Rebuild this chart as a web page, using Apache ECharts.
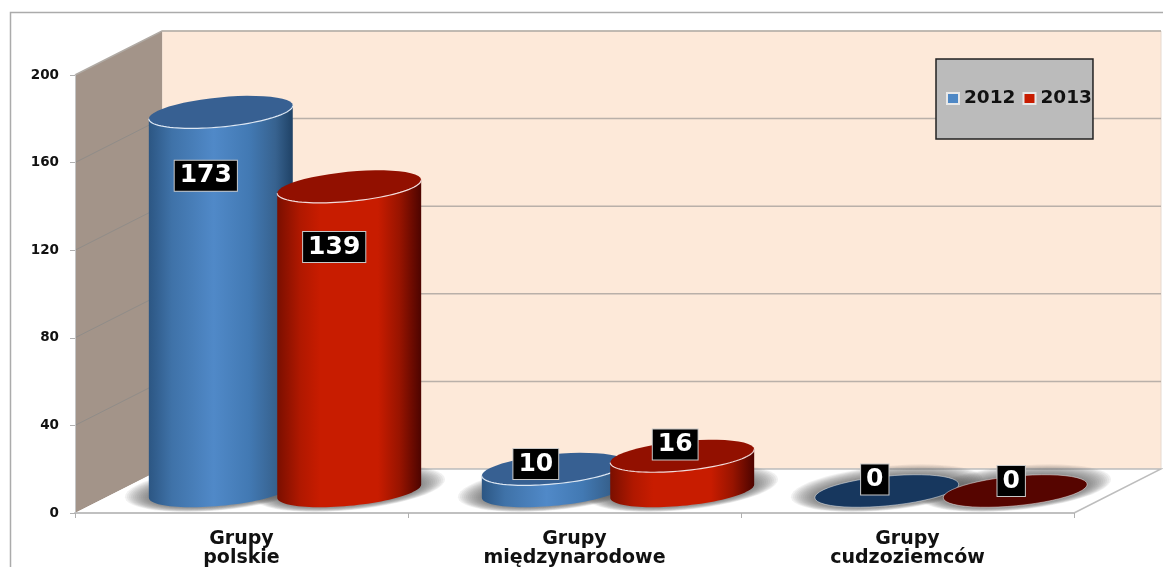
<!DOCTYPE html>
<html>
<head>
<meta charset="utf-8">
<title>Grupy</title>
<style>
  html, body { margin: 0; padding: 0; background: #fff; }
  #chart { width: 1163px; height: 567px; }
</style>
</head>
<body>
<div id="chart"></div>
<script src="https://cdn.jsdelivr.net/npm/echarts@6/dist/echarts.min.js"></script>
<script>
const categories = ['Grupy\npolskie', 'Grupy\nmiędzynarodowe', 'Grupy\ncudzoziemców']
const values2012 = [173, 10, 0]
const values2013 = [139, 16, 0]
const yTicks = [0, 40, 80, 120, 160, 200]

// layout of the fake 3d box, in px
const DEPTH_X = 87
const DEPTH_Y = 44
const BAR_SHIFT = 64.2
const RADIUS_A = 72.3
const RADIUS_B = 14.8
const TILT = 5.5 * Math.PI / 180
const FONT = '"DejaVu Sans", sans-serif'
const SHADOW_STEPS = [24, 22, 20, 18, 16, 14, 12, 10, 8, 6, 4, 2]

// where each value box sits relative to the top of its cylinder
const labelNudge2012 = [[-15, 63.5], [-18, -5], [-12, -11.5]]
const labelNudge2013 = [[-15, 60.5], [-7, -11.5], [-4, -10]]

const blueStyle = {
  top: '#376092',
  flat: '#17375e',
  edge: '#dce6f2',
  stops: [[0, '#2c5683'], [0.16, '#3f72a8'], [0.45, '#5089c8'], [0.7, '#4279b3'], [0.88, '#37628f'], [1, '#1f4266']]
}
const redStyle = {
  top: '#921000',
  flat: '#560500',
  edge: '#f2dcdb',
  stops: [[0, '#7a0f00'], [0.16, '#b01800'], [0.3, '#c81c00'], [0.7, '#c81c00'], [0.85, '#981400'], [1, '#4d0400']]
}

function ellipsePoint(cx, cy, a, b, t) {
  return [
    cx + a * Math.cos(t) * Math.cos(TILT) + b * Math.sin(t) * Math.sin(TILT),
    cy - a * Math.cos(t) * Math.sin(TILT) + b * Math.sin(t) * Math.cos(TILT)
  ]
}

// t of the rightmost point of the ellipse
function sideAngle(a, b) {
  return Math.atan2(b * Math.sin(TILT), a * Math.cos(TILT))
}

function arc(cx, cy, a, b, from, to) {
  const pts = []
  const steps = 48
  for (let i = 0; i <= steps; i++) {
    pts.push(ellipsePoint(cx, cy, a, b, from + (to - from) * i / steps))
  }
  return pts
}

function renderCylinder(values, look, nudges, order) {
  return function (params, api) {
    const idx = api.value(0)
    const value = api.value(1)
    const base = api.coord([idx, 0])
    const head = api.coord([idx, value])
    const cx = base[0] + DEPTH_X / 2 + order * BAR_SHIFT
    const cyBase = base[1] - DEPTH_Y / 2
    const cyTop = head[1] - DEPTH_Y / 2
    const a = RADIUS_A
    const b = RADIUS_B
    const t0 = sideAngle(a, b)
    const z2 = 2 + order

    // soft floor shadow, stacked see-through ellipses that get darker inwards
    const children = SHADOW_STEPS.map(s => ({
      type: 'polygon',
      z2: -2,
      shape: { points: arc(cx, cyBase - s * 0.12, a + s, b + s * 0.3, 0, Math.PI * 2) },
      style: { fill: 'rgba(95,95,95,0.085)' }
    }))

    if (value > 0) {
      const topRight = ellipsePoint(cx, cyTop, a, b, t0)
      const topLeft = ellipsePoint(cx, cyTop, a, b, t0 + Math.PI)
      children.push({
        type: 'polygon',
        z2: z2,
        shape: { points: [topLeft, topRight].concat(arc(cx, cyBase, a, b, t0, t0 + Math.PI)) },
        style: {
          fill: new echarts.graphic.LinearGradient(0, 0, 1, 0,
            look.stops.map(s => ({ offset: s[0], color: s[1] })))
        }
      })
    }
    children.push({
      type: 'polygon',
      z2: z2,
      shape: { points: arc(cx, cyTop, a, b, 0, Math.PI * 2) },
      style: { fill: value > 0 ? look.top : look.flat, stroke: value > 0 ? null : 'rgba(255,255,255,0.45)' }
    })
    if (value > 0) {
      children.push({
        type: 'polyline',
        z2: z2,
        shape: { points: arc(cx, cyTop, a, b, t0, t0 + Math.PI) },
        style: { fill: null, stroke: look.edge, lineWidth: 1.2 }
      })
    }
    children.push({
      type: 'text',
      z2: 20,
      style: {
        x: cx + nudges[idx][0],
        y: cyTop + nudges[idx][1],
        text: String(values[idx]),
        align: 'center',
        verticalAlign: 'middle',
        fill: '#fff',
        font: 'bold 25px ' + FONT,
        backgroundColor: '#000',
        borderColor: '#c8c8c8',
        borderWidth: 1,
        padding: [3, 5, 2, 5]
      }
    })
    return { type: 'group', children: children }
  }
}

function renderWalls(params, api) {
  const box = params.coordSys
  const left = box.x
  const right = box.x + box.width
  const floorY = api.coord([0, 0])[1]
  const topY = api.coord([0, yTicks[yTicks.length - 1]])[1]
  const backL = left + DEPTH_X
  const backR = right + DEPTH_X

  const children = [
    {
      type: 'polygon',
      shape: { points: [[backL, topY - DEPTH_Y], [backR, topY - DEPTH_Y], [backR, floorY - DEPTH_Y], [backL, floorY - DEPTH_Y]] },
      style: { fill: '#fde9d9', stroke: '#e6d9cf', lineWidth: 1 }
    },
    {
      type: 'polygon',
      shape: { points: [[left, topY], [backL, topY - DEPTH_Y], [backL, floorY - DEPTH_Y], [left, floorY]] },
      style: { fill: '#a39489' }
    },
    {
      type: 'polygon',
      shape: { points: [[left, floorY], [right, floorY], [backR, floorY - DEPTH_Y], [backL, floorY - DEPTH_Y]] },
      style: { fill: '#fff' }
    },
    {
      type: 'polyline',
      shape: { points: [[backL, floorY - DEPTH_Y], [backR, floorY - DEPTH_Y], [right, floorY]] },
      style: { fill: null, stroke: '#bdbdbd', lineWidth: 1.5 }
    },
    {
      type: 'polyline',
      shape: { points: [[left, topY], [backL, topY - DEPTH_Y], [backR, topY - DEPTH_Y]] },
      style: { fill: null, stroke: '#b0aaa4', lineWidth: 1.5 }
    }
  ]
  yTicks.slice(1, -1).forEach(v => {
    const y = api.coord([0, v])[1]
    children.push({
      type: 'line',
      shape: { x1: left, y1: y, x2: backL, y2: y - DEPTH_Y },
      style: { stroke: '#908c88', lineWidth: 1 }
    }, {
      type: 'line',
      shape: { x1: backL, y1: y - DEPTH_Y, x2: backR, y2: y - DEPTH_Y },
      style: { stroke: '#b9b0a9', lineWidth: 1.5 }
    })
  })
  return { type: 'group', children: children }
}

const chart = echarts.init(document.getElementById('chart'), null, { renderer: 'canvas' })

chart.setOption({
  animation: false,
  backgroundColor: '#fff',
  graphic: [{
    type: 'polyline',
    silent: true,
    shape: { points: [[10.5, 567], [10.5, 12.5], [1163, 12.5]] },
    style: { fill: null, stroke: '#ababab', lineWidth: 1.5 }
  }],
  legend: {
    left: 936,
    top: 59,
    orient: 'horizontal',
    data: [
      { name: '2012', icon: 'rect' },
      { name: '2013', icon: 'rect' }
    ],
    itemWidth: 12,
    itemHeight: 11,
    itemGap: 7,
    backgroundColor: '#bbbbbb',
    borderColor: '#222',
    borderWidth: 1.5,
    borderRadius: 0,
    padding: [30, 1, 31, 10],
    textStyle: { color: '#111', fontFamily: FONT, fontWeight: 'bold', fontSize: 18.5 }
  },
  grid: { left: 75, top: 75, right: 89, bottom: 54, outerBoundsMode: 'none' },
  xAxis: {
    type: 'category',
    data: categories,
    axisLine: { lineStyle: { color: '#c0c0c0', width: 2 } },
    axisTick: { show: true, length: 5, lineStyle: { color: '#b0b0b0' } },
    axisLabel: {
      color: '#111',
      fontFamily: FONT,
      fontWeight: 'bold',
      fontSize: 19,
      lineHeight: 19,
      margin: 17,
      interval: 0
    }
  },
  yAxis: {
    type: 'value',
    min: 0,
    max: 200,
    interval: 40,
    axisLine: { show: true, lineStyle: { color: '#c4c4c4', width: 1 } },
    axisTick: { show: true, length: 5, lineStyle: { color: '#b0b0b0' } },
    splitLine: { show: false },
    axisLabel: {
      color: '#111',
      fontFamily: FONT,
      fontWeight: 'bold',
      fontSize: 13.5,
      margin: 16
    }
  },
  series: [
    {
      type: 'custom',
      name: 'walls',
      z: -1,
      silent: true,
      clip: false,
      renderItem: renderWalls,
      data: [[0, 0]]
    },
    {
      type: 'custom',
      name: '2012',
      clip: false,
      itemStyle: { color: '#4f88c5', borderColor: '#e8e8e8', borderWidth: 1 },
      encode: { x: 0, y: 1 },
      renderItem: renderCylinder(values2012, blueStyle, labelNudge2012, -1),
      data: values2012.map((v, i) => [i, v])
    },
    {
      type: 'custom',
      name: '2013',
      clip: false,
      itemStyle: { color: '#c81c00', borderColor: '#e8e8e8', borderWidth: 1 },
      encode: { x: 0, y: 1 },
      renderItem: renderCylinder(values2013, redStyle, labelNudge2013, 1),
      data: values2013.map((v, i) => [i, v])
    }
  ]
})
</script>
</body>
</html>
